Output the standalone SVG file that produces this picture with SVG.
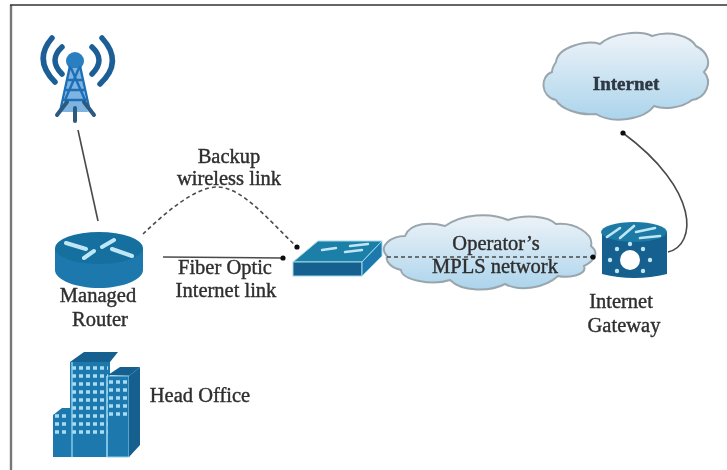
<svg xmlns="http://www.w3.org/2000/svg" width="727" height="470" viewBox="0 0 727 470">
<style>
text{font-family:"Liberation Serif","Times New Roman",serif;font-size:20.5px;fill:#2e2e2e;text-anchor:middle;stroke:#2e2e2e;stroke-width:.4}
.conn{fill:none;stroke:#4a4a4a;stroke-width:1.6}
.dash{stroke-dasharray:4 3}
.b{fill:#1a78ad}
.d{fill:#12608f}
.w{fill:none;stroke:#bfe6f5;stroke-width:4;stroke-linecap:round}
.cloud{stroke:#9aa6ad;stroke-width:2}
</style>
<defs>
<linearGradient id="cg" x1="0" y1="0" x2="0" y2="1"><stop offset="0" stop-color="#eef3f8"/><stop offset="1" stop-color="#abd4ec"/></linearGradient>
<marker id="dot" markerWidth="6" markerHeight="6" refX="3" refY="3" markerUnits="userSpaceOnUse"><circle cx="3" cy="3" r="2.6" fill="#111"/></marker>
<filter id="soft" x="-5%" y="-5%" width="110%" height="110%"><feGaussianBlur stdDeviation="0.65"/></filter>
</defs>
<rect width="727" height="470" fill="#fff"/>
<g id="frame"><path d="M11 470V5" stroke="#777" stroke-width="2.4" fill="none"/><path d="M10 5H727" stroke="#333" stroke-width="1.4" fill="none"/></g>
<g filter="url(#soft)">
<g id="connectors">
<path class="conn" d="M78 130L98 221"/>
<path class="conn dash" d="M143 234C165 213 195 187 217 187C243 187 270 222 297 247" marker-end="url(#dot)"/>
<path class="conn" d="M163 257L283 258" marker-end="url(#dot)"/>
<path class="conn" d="M668 252C697 245 700 190 623 133" marker-end="url(#dot)"/>
</g>
<g id="tower">
<g fill="none" stroke="#1d5f96" stroke-linecap="round" stroke-width="5.5">
<path d="M52 38Q33 60 55 82"/>
<path d="M62 47Q48 60 62 74"/>
<path d="M92 47Q106 60 92 74"/>
<path d="M102 38Q124 62 100 84"/>
</g>
<circle cx="75" cy="61" r="9" fill="#2a7fc0"/>
<path d="M70 68H80L88 112H62Z" fill="#7fb3e0"/>
<g fill="none" stroke="#1f6fb8" stroke-width="2.4">
<path d="M70 66L60 112M80 66L90 112M67 80H83M65 90H85M63 100H87M71 68L85 100M79 68L65 100"/>
</g>
<path d="M57 115L67 102M94 115L84 102M75 121V108" stroke="#2c5a80" stroke-width="4" fill="none" stroke-linecap="round"/>
</g>
<g id="router">
<path class="b" d="M55 248V270C55 280 76 288 99 288S143 280 143 270V248Z"/>
<ellipse cx="99" cy="248" rx="44" ry="16" fill="#12709f"/>
<path class="w" d="M66 243L86 249M132 256L112 249M114 240L102 247M84 258L94 251"/>
<text x="98" y="302">Managed</text>
<text x="100" y="326">Router</text>
</g>
<g id="switch">
<path d="M293 262L318 241H382L362 262Z" fill="#1f7fa8" stroke="#9fd8ea"/>
<rect x="293" y="262" width="69" height="14" class="d" stroke="#9fd8ea"/>
<path d="M362 262L382 241V256L362 276Z" class="b" stroke="#9fd8ea"/>
<path class="w" style="stroke-width:2.4" d="M322 250L336 248M345 252L362 250M350 246L368 244"/>
</g>
<g id="mpls">
<path class="cloud" fill="url(#cg)" d="M387 256C377 246 392 236 405 236C410 222 432 222 445 226C462 214 490 212 508 220C525 214 548 216 556 224C575 222 594 234 591 246C601 254 592 262 584 266C588 276 566 278 558 276C545 288 520 292 505 284C490 292 462 292 450 280C432 286 402 280 401 270C392 268 385 262 387 256Z"/>
<path class="conn dash" d="M387 257H593" marker-end="url(#dot)"/>
<text x="496" y="250">Operator’s</text>
<text x="495" y="273">MPLS network</text>
</g>
<g id="gateway">
<path class="d" d="M602 232V274Q634 282 667 274V232Z"/>
<ellipse cx="634" cy="232" rx="33" ry="10" fill="#1c7aa5"/>
<path class="w" style="stroke-width:2.6" d="M607 237L620 228M620 238L634 226M636 232L655 228M640 238L660 236"/>
<circle cx="630" cy="260" r="10" fill="#fff"/>
<g fill="#bfe6f5"><circle cx="630" cy="244" r="2.2"/><circle cx="617" cy="249" r="2.2"/><circle cx="643" cy="249" r="2.2"/><circle cx="610" cy="260" r="2.2"/><circle cx="650" cy="260" r="2.2"/><circle cx="617" cy="271" r="2.2"/><circle cx="643" cy="271" r="2.2"/></g>
<text x="621" y="308">Internet</text>
<text x="624" y="332">Gateway</text>
</g>
<g id="internet">
<path class="cloud" fill="url(#cg)" d="M556 62C558 46 588 40 600 44C612 33 640 30 652 36C670 30 690 36 696 46C708 52 712 64 704 72C713 82 706 98 692 100C682 108 664 110 654 106C644 120 612 124 596 114C578 116 560 108 556 100C540 96 540 76 552 72C552 68 554 65 556 62Z"/>
<text x="626" y="90" style="font-size:19px;font-weight:bold;fill:#2b3a4a">Internet</text>
</g>
<g id="backup-label"><text x="229" y="163">Backup</text><text x="229" y="185">wireless link</text></g>
<g id="fiber-label"><text x="225" y="274">Fiber Optic</text><text x="226" y="297">Internet link</text></g>
<g id="head-office">
<path class="b" d="M53 457V415L62 408H70V457Z"/>
<path class="d" d="M70 362L84 352H118L110 362Z"/>
<path class="b" d="M70 362H110V457H70Z"/>
<path d="M108 375L120 367H140L129 376Z" class="d"/>
<path d="M107 376H129V457H107Z" class="b" stroke="#8fd0ee"/>
<path d="M129 376L140 367V445L129 457Z" class="d"/>
<g stroke="#a8dcf2" stroke-width="3.4" stroke-dasharray="4 3"><path d="M72 368H108M72 376H108M72 384H108M72 392H108M72 400H108M72 408H108M72 416H108M72 424H108M72 432H108M109 382H127M109 390H127M109 398H127M109 406H127M109 414H127M55 416H69M55 424H69M55 432H69"/></g>
<path d="M72 362V457M107 376V457" stroke="#8fd0ee" stroke-width="1.4" fill="none"/>
<text x="200" y="402">Head Office</text>
</g>
</g>
</svg>
